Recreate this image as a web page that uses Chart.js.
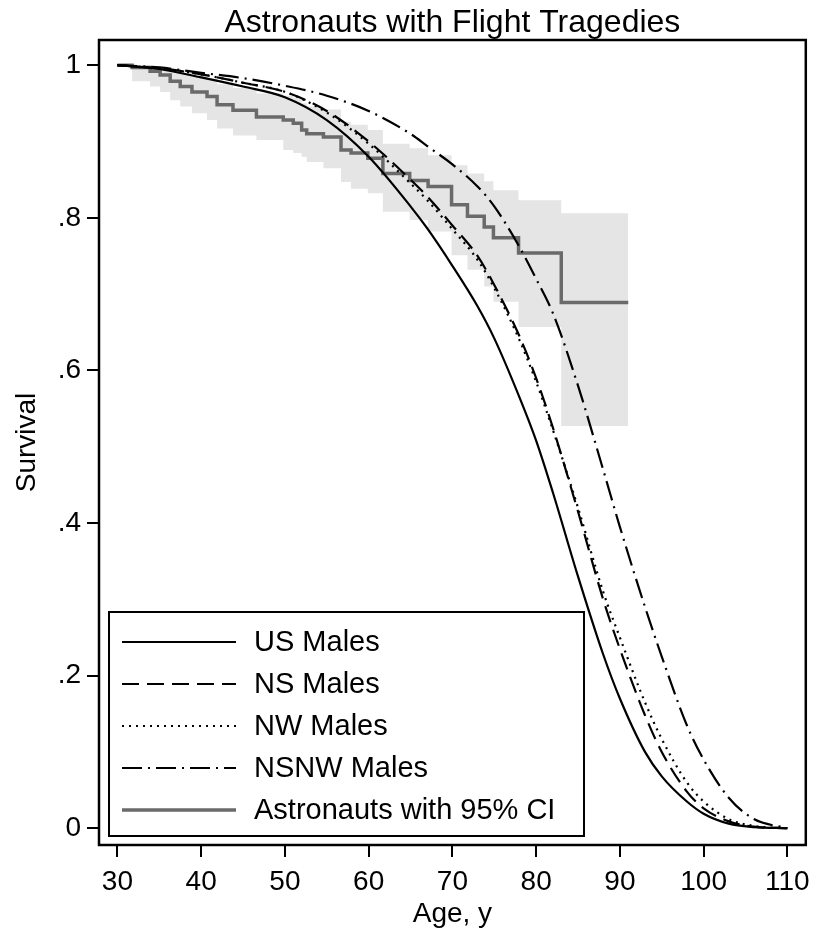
<!DOCTYPE html>
<html>
<head>
<meta charset="utf-8">
<title>Astronauts with Flight Tragedies</title>
<script src="https://cdn.jsdelivr.net/npm/chart.js@4.4.1/dist/chart.umd.min.js"></script>
<style>
  html, body { margin:0; padding:0; background:#fff; }
  #wrap { width:818px; height:931px; }
</style>
</head>
<body>
<div id="wrap"><canvas id="canvasSurvival" width="818" height="931"></canvas></div>
<script>

// ages used for the smooth life table curves
const ages = [30,35,40,45,50,55,60,65,67,70,73,75,78,80,82,85,88,90,93,95,98,100,103,106,110];

const usMales   = [1.0,0.995,0.984,0.972,0.958,0.928,0.88,0.815,0.786,0.737,0.684,0.642,0.565,0.508,0.44,0.33,0.228,0.17,0.10,0.068,0.035,0.019,0.006,0.0015,0.0];
const nsMales   = [1.0,0.996,0.988,0.977,0.965,0.94,0.9,0.85,0.828,0.79,0.75,0.712,0.645,0.59,0.525,0.415,0.30,0.235,0.148,0.10,0.048,0.026,0.009,0.002,0.0];
const nwMales   = [1.0,0.996,0.988,0.977,0.965,0.938,0.897,0.845,0.823,0.785,0.745,0.708,0.64,0.585,0.522,0.42,0.31,0.25,0.165,0.117,0.06,0.035,0.012,0.003,0.0];
const nsnwMales = [1.0,0.997,0.99,0.983,0.973,0.96,0.94,0.91,0.894,0.87,0.841,0.815,0.762,0.72,0.675,0.58,0.47,0.395,0.29,0.225,0.135,0.09,0.04,0.012,0.0];

// astronaut Kaplan-Meier steps and 95% CI
const kmAges  = [30,31.75,33.9,35.1,36.3,37.5,38.9,40.7,41.9,43.8,46.6,49.8,51.0,52.0,52.6,54.6,56.7,57.9,59.9,61.7,64.9,67.1,69.9,71.8,73.8,74.9,77.9,83.0,91.0];
const kmSurv  = [1.0,0.997,0.992,0.987,0.979,0.972,0.965,0.959,0.948,0.941,0.932,0.928,0.924,0.915,0.910,0.906,0.889,0.885,0.878,0.858,0.849,0.841,0.817,0.802,0.788,0.774,0.754,0.689,0.689];
const kmLower = [1.0,0.979,0.972,0.965,0.954,0.946,0.937,0.928,0.917,0.908,0.902,0.889,0.885,0.88,0.873,0.865,0.847,0.838,0.832,0.808,0.797,0.782,0.751,0.732,0.71,0.69,0.657,0.527,0.527];
const kmUpper = [1.0,1.0,0.999,0.997,0.994,0.99,0.986,0.982,0.975,0.97,0.963,0.96,0.957,0.95,0.946,0.942,0.926,0.922,0.915,0.897,0.891,0.882,0.869,0.858,0.848,0.836,0.823,0.806,0.806];

const xTicks = [30,40,50,60,70,80,90,100,110];
const yTicks = [0,0.2,0.4,0.6,0.8,1];
const yTickLabels = ['0','.2','.4','.6','.8','1'];


function toPoints(xs, ys){
    let arr=[]
    for (let i=0;i<xs.length;i++){
        arr.push({x:xs[i], y:ys[i]})
    }
    return arr;
}

Chart.defaults.font.family = "'Liberation Sans', Arial, sans-serif";
Chart.defaults.color = '#000';

// box round the plot area
const frame = {
    id:'frame',
    afterDatasetsDraw(chart){
        let ctx=chart.ctx, ca=chart.chartArea;
        ctx.save();
        ctx.strokeStyle='#000';
        ctx.lineWidth=2.5;
        ctx.strokeRect(ca.left, ca.top, ca.right-ca.left, ca.bottom-ca.top);
        ctx.restore();
    }
};

// legend drawn inside the plot, bottom left
const insideLegend = {
    id:'insideLegend',
    afterDraw(chart){
        let ctx=chart.ctx, ca=chart.chartArea;
        let w=475, h=224;
        let left=ca.left+10, top=ca.bottom-9-h;
        ctx.save();
        ctx.fillStyle='#fff';
        ctx.fillRect(left, top, w, h);
        ctx.strokeStyle='#000';
        ctx.lineWidth=2;
        ctx.strokeRect(left, top, w, h);

        let items=chart.data.datasets.filter(d => d.inLegend);
        items.sort((a,b) => a.legendOrder-b.legendOrder);
        ctx.font="29px 'Liberation Sans', Arial, sans-serif";
        ctx.textBaseline='middle';
        ctx.textAlign='left';
        for (let i=0;i<items.length;i++){
            let d=items[i];
            let y=top+30+i*42;
            ctx.beginPath();
            ctx.strokeStyle=d.borderColor;
            ctx.lineWidth=d.borderWidth;
            ctx.setLineDash(d.borderDash || []);
            ctx.moveTo(left+13, y);
            ctx.lineTo(left+127, y);
            ctx.stroke();
            ctx.setLineDash([]);
            ctx.fillStyle='#000';
            ctx.fillText(d.label, left+145, y+1);
        }
        ctx.restore();
    }
};

let curveStyle = {
    borderColor:'#000',
    borderWidth:2.2,
    pointRadius:0,
    fill:false,
    cubicInterpolationMode:'monotone',
    inLegend:true,
    order:1
};

let myChart = {
    type:'line',
    data:{
        datasets:[
            Object.assign({}, curveStyle, {label:'US Males', data:toPoints(ages, usMales), legendOrder:0}),
            Object.assign({}, curveStyle, {label:'NS Males', data:toPoints(ages, nsMales), borderDash:[17,8], legendOrder:1}),
            Object.assign({}, curveStyle, {label:'NW Males', data:toPoints(ages, nwMales), borderDash:[2,5], legendOrder:2}),
            Object.assign({}, curveStyle, {label:'NSNW Males', data:toPoints(ages, nsnwMales), borderDash:[20,6,2,6], legendOrder:3}),
            {
                label:'Astronauts with 95% CI',
                data:toPoints(kmAges, kmSurv),
                stepped:true,
                borderColor:'#6a6a6a',
                borderWidth:3.5,
                pointRadius:0,
                fill:false,
                inLegend:true,
                legendOrder:4,
                order:5
            },
            {
                label:'upper',
                data:toPoints(kmAges, kmUpper),
                stepped:true,
                borderWidth:0,
                borderColor:'rgba(0,0,0,0)',
                backgroundColor:'#e5e5e5',
                pointRadius:0,
                fill:'+1',
                order:10
            },
            {
                label:'lower',
                data:toPoints(kmAges, kmLower),
                stepped:true,
                borderWidth:0,
                borderColor:'rgba(0,0,0,0)',
                pointRadius:0,
                fill:false,
                order:10
            }
        ]
    },
    options:{
        responsive:false,
        animation:false,
        devicePixelRatio:1,
        layout:{ padding:{ left:0, right:9, top:0, bottom:0 } },
        plugins:{
            legend:{ display:false },
            tooltip:{ enabled:false },
            title:{
                display:true,
                fullSize:false,
                text:'Astronauts with Flight Tragedies',
                color:'#000',
                font:{ size:32, weight:'normal', lineHeight:1.0 },
                padding:{ top:7, bottom:1 }
            }
        },
        scales:{
            x:{
                type:'linear',
                min:27.8,
                max:112.2,
                afterBuildTicks: s => { s.ticks = xTicks.map(v => ({value:v})) },
                afterFit: s => { s.height = 86 },
                ticks:{ font:{ size:28 }, color:'#000', padding:8, maxRotation:0, autoSkip:false },
                grid:{ drawOnChartArea:false, drawTicks:true, tickLength:12, color:'#000', lineWidth:2 },
                border:{ display:false },
                title:{ display:true, text:'Age, y', color:'#000', font:{ size:28 }, padding:{ top:4, bottom:0 } }
            },
            y:{
                type:'linear',
                min:-0.022,
                max:1.033,
                afterBuildTicks: s => { s.ticks = yTicks.map(v => ({value:v})) },
                afterFit: s => { s.width = 99 },
                ticks:{ font:{ size:28 }, color:'#000', padding:6, autoSkip:false,
                        callback:(value, index) => yTickLabels[index] },
                grid:{ drawOnChartArea:false, drawTicks:true, tickLength:12, color:'#000', lineWidth:2 },
                border:{ display:false },
                title:{ display:true, text:'Survival', color:'#000', font:{ size:28 }, padding:{ top:10, bottom:0 } }
            }
        }
    },
    plugins:[frame, insideLegend]
};

let ctx = document.getElementById('canvasSurvival').getContext('2d');
new Chart(ctx, myChart);

</script>
</body>
</html>
